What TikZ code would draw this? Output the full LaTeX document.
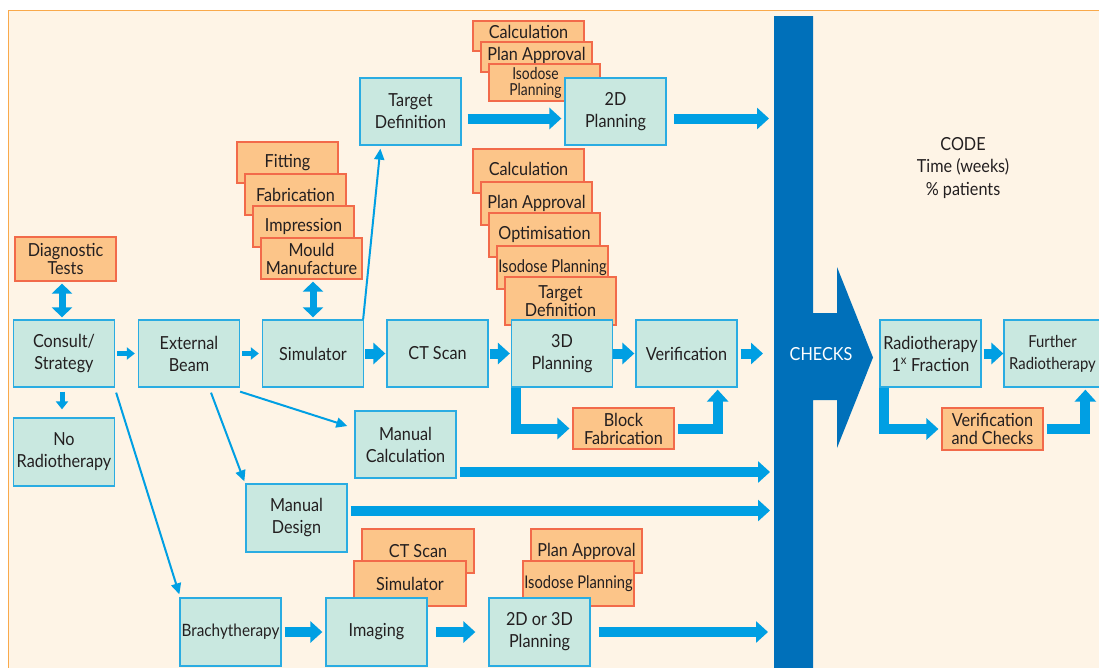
\documentclass[tikz,border=0pt]{standalone}
\usepackage{fontspec}
\setmainfont{Lato}[FakeStretch=0.9]
\newfontfamily\condfont{Lato}[FakeStretch=0.84]
\usetikzlibrary{arrows.meta}
\definecolor{bgcream}{HTML}{FEF4E6}
\definecolor{bgborder}{HTML}{F9A94B}
\definecolor{tealfill}{HTML}{C9E8E0}
\definecolor{tealline}{HTML}{2AACE2}
\definecolor{orfill}{HTML}{FCC589}
\definecolor{orline}{HTML}{F26A4A}
\definecolor{arrblue}{HTML}{009FE3}
\definecolor{chkblue}{HTML}{0070BA}
\definecolor{txt}{HTML}{231F20}
\begin{document}
\begin{tikzpicture}[x=1pt,y=-1pt,
  every node/.style={text=txt, font=\fontsize{18}{22}\selectfont},
  tbox/.style={draw=tealline, fill=tealfill, line width=1.3pt, align=center, inner sep=0pt, minimum width=101pt, minimum height=67pt},
  obox/.style={draw=orline, fill=orfill, line width=1.2pt, align=center, inner sep=0pt, minimum width=111pt, minimum height=44pt, font=\fontsize{18}{18}\selectfont},
  cond/.style={font=\condfont\fontsize{17.5}{18}\selectfont},
  blk/.style={draw=arrblue, line width=10pt, -{Triangle[length=12pt,width=21pt]}},
  sblk/.style={draw=arrblue, line width=5pt, -{Triangle[length=8pt,width=12pt]}},
  dblk/.style={draw=arrblue, line width=7pt, {Triangle[length=10pt,width=20pt]}-{Triangle[length=10pt,width=20pt]}},
  tarr/.style={draw=arrblue, line width=2pt, -{Triangle[length=11pt,width=10pt]}}
]
\useasboundingbox (0,0) rectangle (1099,667);
\fill[white] (0,0) rectangle (1099,667);
\draw[draw=bgborder, fill=bgcream, line width=1pt] (8,10) rectangle (1120,690);

% CHECKS big arrow
\fill[chkblue] (774,16) -- (813,16) -- (813,313) -- (837,313) -- (837,267) -- (873,357.5)
  -- (837,448) -- (837,400) -- (813,400) -- (813,690) -- (774,690) -- cycle;
\node[text=white] (checks) at (821,354) {CHECKS};

\node[align=center, font=\fontsize{18}{22.5}\selectfont] (code) at (963,168) {CODE\\Time (weeks)\\\% patients};

% orange stacks
\node[obox, minimum width=101pt] (diag) at (65.5,259) {Diagnostic\\Tests};

\node[obox, minimum width=101pt, minimum height=41pt] (fit) at (287.5,162.5) {Fitting};
\node[obox, minimum width=101pt, minimum height=41pt] (fab) at (295.5,194.5) {Fabrication};
\node[obox, minimum width=101pt, minimum height=41pt] (imp) at (303.5,226.5) {Impression};
\node[obox, minimum width=101pt, minimum height=41pt] (mould) at (311.5,258.5) {Mould\\Manufacture};

\node[obox, minimum height=30pt] (tcalc) at (528.5,36) {\raisebox{8pt}{Calculation}};
\node[obox, minimum height=30pt] (tappr) at (536.5,57) {\raisebox{7pt}{Plan Approval}};
\node[obox, minimum height=37pt, font=\condfont\fontsize{16.5}{16}\selectfont] (tiso) at (544.5,82.5) {\hspace*{-18pt}Isodose\\\hspace*{-18pt}Planning};

\node[obox] (ccalc) at (528.5,171) {\raisebox{4pt}{Calculation}};
\node[obox, minimum height=43pt] (cappr) at (536.5,203.5) {\raisebox{4pt}{Plan Approval}};
\node[obox] (copt) at (544.5,235) {\raisebox{4pt}{Optimisation}};
\node[obox, minimum height=43pt, cond] (ciso) at (552.5,267.5) {\raisebox{3pt}{Isodose Planning}};
\node[obox, minimum height=48pt] (ctgt) at (560.5,301) {Target\\Definition};

\node[obox, minimum width=112pt] (bct) at (418,551) {CT Scan};
\node[obox, minimum width=112pt, minimum height=45pt] (bsim) at (410,583.5) {Simulator};
\node[obox] (bappr) at (586.5,551) {Plan Approval};
\node[obox, minimum height=45pt, cond] (biso) at (578.5,583.5) {Isodose Planning};

\node[obox, minimum width=101pt, minimum height=41pt] (blockfab) at (623.5,428.5) {Block\\Fabrication};
\node[obox, minimum width=101pt, minimum height=42pt] (vandc) at (992.5,429) {Verification\\and Checks};

% teal boxes
\node[tbox] (consult) at (64,353.5) {Consult/\\Strategy};
\node[tbox] (extbeam) at (189,353.5) {External\\Beam};
\node[tbox] (sim) at (313,353.5) {Simulator};
\node[tbox] (ctscan) at (437.5,353.5) {CT Scan};
\node[tbox] (p3d) at (562,353.5) {3D\\Planning};
\node[tbox] (verif) at (686.5,353.5) {Verification};
\node[tbox] (rt1) at (930.5,353.5) {Radiotherapy\\1\textsuperscript{x} Fraction};
\node[tbox, minimum width=102pt, font=\fontsize{16.5}{22}\selectfont] (further) at (1055,353.5) {\hspace*{-5pt}Further\\\hspace*{-5pt}Radiotherapy};
\node[tbox, minimum height=68pt] (norad) at (64,452) {No\\Radiotherapy};
\node[tbox, minimum height=68pt] (mdesign) at (296.5,518) {Manual\\Design};
\node[tbox] (mcalc) at (405.5,444.5) {Manual\\Calculation};
\node[tbox, minimum height=68pt, font=\fontsize{17}{22}\selectfont] (brachy) at (230.5,632) {Brachytherapy};
\node[tbox, minimum height=68pt] (imaging) at (376.5,632) {Imaging};
\node[tbox, minimum height=68pt] (p2d3d) at (539.5,632) {2D or 3D\\Planning};
\node[tbox] (target) at (410.5,111.5) {Target\\Definition};
\node[tbox] (p2d) at (615.5,111.5) {2D\\Planning};

% coordinates at CHECKS
\coordinate (ck2d) at (769,118.5);
\coordinate (ckv) at (763,353.5);
\coordinate (ckmc) at (770,472);
\coordinate (ckmd) at (770,510.5);
\coordinate (ckbr) at (768,632);

% double arrows
\draw[dblk, shorten <=2pt, shorten >=2pt] ([xshift=-3.5pt]diag.south) -- ([xshift=-2pt]consult.north);
\draw[dblk, shorten <=2pt, shorten >=2pt] ([xshift=1.5pt]mould.south) -- (sim.north);

% small arrows
\draw[sblk, shorten <=2pt, shorten >=3pt] (consult.east) -- (extbeam.west);
\draw[sblk, shorten <=2pt, shorten >=3pt] (extbeam.east) -- (sim.west);
\draw[sblk, shorten <=4pt, shorten >=8pt] ([xshift=-2pt]consult.south) -- ([xshift=-2pt]norad.north);

% main row block arrows
\draw[blk, shorten <=1pt, shorten >=1pt] (sim.east) -- (ctscan.west);
\draw[blk, shorten <=1pt, shorten >=1pt] (ctscan.east) -- (p3d.west);
\draw[blk, shorten >=1pt] (p3d.east) -- (verif.west);
\draw[blk, shorten <=3pt] (verif.east) -- (ckv);
\draw[blk, shorten <=2pt, shorten >=0pt] (rt1.east) -- (further.west);

\draw[blk, shorten <=6pt, shorten >=3pt] ([yshift=-7pt]target.east) -- ([yshift=-7pt]p2d.west);
\draw[blk, shorten <=7pt] ([yshift=-7pt]p2d.east) -- (ck2d);
\draw[blk, shorten <=3pt] ([yshift=-27.5pt]mcalc.east) -- (ckmc);
\draw[blk, shorten <=3pt] ([yshift=7.5pt]mdesign.east) -- (ckmd);
\draw[blk, shorten <=3pt, shorten >=3pt] (brachy.east) -- (imaging.west);
\draw[blk, shorten <=8pt, shorten >=13pt] (imaging.east) -- (p2d3d.west);
\draw[blk, shorten <=8pt] (p2d3d.east) -- (ckbr);

% elbows
\draw[blk, shorten >=3pt] ([xshift=5pt]p3d.south west) |- (blockfab.west);
\draw[blk, shorten <=3pt, shorten >=2pt] (blockfab.east) -| ([xshift=-20pt]verif.south east);
\draw[blk, shorten >=3pt] ([xshift=5pt]rt1.south west) |- (vandc.west);
\draw[blk, shorten <=3pt, shorten >=2pt] (vandc.east) -| ([xshift=82pt]further.south west);

% thin arrows
\draw[tarr] ([xshift=1pt,yshift=-5pt]consult.south east) -- ([yshift=3pt]brachy.north west);
\draw[tarr] ([xshift=22pt,yshift=-5pt]extbeam.south) -- ([xshift=-1pt,yshift=2pt]mdesign.north west);
\draw[tarr] ([yshift=-4pt]extbeam.south east) -- ([xshift=-7pt,yshift=18.5pt]mcalc.west);
\draw[tarr] ([xshift=-1pt]sim.north east) -- ([xshift=21pt,yshift=-3pt]target.south west);
\end{tikzpicture}
\end{document}
